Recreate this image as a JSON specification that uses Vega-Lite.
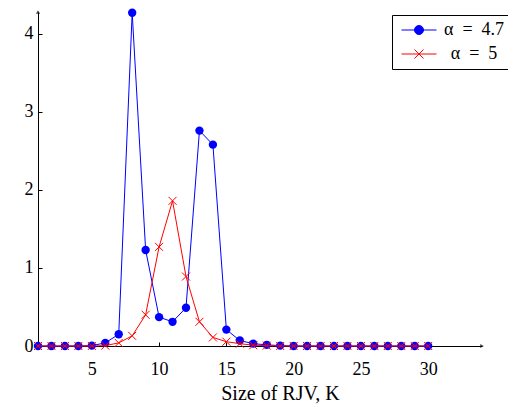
{
  "$schema": "https://vega.github.io/schema/vega-lite/v6.json",
  "width": 444,
  "height": 334,
  "autosize": {"type": "none"},
  "padding": {"left": 38, "top": 12, "right": 26, "bottom": 59},
  "config": {
    "view": {"stroke": null},
    "font": "Liberation Serif",
    "axis": {
      "domainColor": "black",
      "domainWidth": 1,
      "tickColor": "black",
      "tickWidth": 1,
      "tickSize": -4,
      "grid": false,
      "labelColor": "black",
      "labelFontSize": 18,
      "labelFont": "Liberation Serif",
      "titleColor": "black",
      "titleFont": "Liberation Serif",
      "titleFontSize": 20,
      "titleFontWeight": "normal"
    }
  },
  "data": {
    "values": [
      {"K": 1, "v": 0, "s": "α = 4.7"}, {"K": 2, "v": 0, "s": "α = 4.7"}, {"K": 3, "v": 0, "s": "α = 4.7"},
      {"K": 4, "v": 0, "s": "α = 4.7"}, {"K": 5, "v": 0.005, "s": "α = 4.7"}, {"K": 6, "v": 0.04, "s": "α = 4.7"},
      {"K": 7, "v": 0.15, "s": "α = 4.7"}, {"K": 8, "v": 4.27, "s": "α = 4.7"}, {"K": 9, "v": 1.23, "s": "α = 4.7"},
      {"K": 10, "v": 0.37, "s": "α = 4.7"}, {"K": 11, "v": 0.31, "s": "α = 4.7"}, {"K": 12, "v": 0.49, "s": "α = 4.7"},
      {"K": 13, "v": 2.76, "s": "α = 4.7"}, {"K": 14, "v": 2.58, "s": "α = 4.7"}, {"K": 15, "v": 0.21, "s": "α = 4.7"},
      {"K": 16, "v": 0.07, "s": "α = 4.7"}, {"K": 17, "v": 0.03, "s": "α = 4.7"}, {"K": 18, "v": 0.015, "s": "α = 4.7"},
      {"K": 19, "v": 0.005, "s": "α = 4.7"}, {"K": 20, "v": 0, "s": "α = 4.7"}, {"K": 21, "v": 0, "s": "α = 4.7"},
      {"K": 22, "v": 0, "s": "α = 4.7"}, {"K": 23, "v": 0, "s": "α = 4.7"}, {"K": 24, "v": 0, "s": "α = 4.7"},
      {"K": 25, "v": 0, "s": "α = 4.7"}, {"K": 26, "v": 0, "s": "α = 4.7"}, {"K": 27, "v": 0, "s": "α = 4.7"},
      {"K": 28, "v": 0, "s": "α = 4.7"}, {"K": 29, "v": 0, "s": "α = 4.7"}, {"K": 30, "v": 0, "s": "α = 4.7"},
      {"K": 1, "v": 0, "s": "α = 5"}, {"K": 2, "v": 0, "s": "α = 5"}, {"K": 3, "v": 0, "s": "α = 5"},
      {"K": 4, "v": 0, "s": "α = 5"}, {"K": 5, "v": 0, "s": "α = 5"}, {"K": 6, "v": 0.005, "s": "α = 5"},
      {"K": 7, "v": 0.04, "s": "α = 5"}, {"K": 8, "v": 0.13, "s": "α = 5"}, {"K": 9, "v": 0.4, "s": "α = 5"},
      {"K": 10, "v": 1.27, "s": "α = 5"}, {"K": 11, "v": 1.86, "s": "α = 5"}, {"K": 12, "v": 0.89, "s": "α = 5"},
      {"K": 13, "v": 0.31, "s": "α = 5"}, {"K": 14, "v": 0.11, "s": "α = 5"}, {"K": 15, "v": 0.055, "s": "α = 5"},
      {"K": 16, "v": 0.03, "s": "α = 5"}, {"K": 17, "v": 0.01, "s": "α = 5"}, {"K": 18, "v": 0.005, "s": "α = 5"},
      {"K": 19, "v": 0, "s": "α = 5"}, {"K": 20, "v": 0, "s": "α = 5"}, {"K": 21, "v": 0, "s": "α = 5"},
      {"K": 22, "v": 0, "s": "α = 5"}, {"K": 23, "v": 0, "s": "α = 5"}, {"K": 24, "v": 0, "s": "α = 5"},
      {"K": 25, "v": 0, "s": "α = 5"}, {"K": 26, "v": 0, "s": "α = 5"}, {"K": 27, "v": 0, "s": "α = 5"},
      {"K": 28, "v": 0, "s": "α = 5"}, {"K": 29, "v": 0, "s": "α = 5"}, {"K": 30, "v": 0, "s": "α = 5"}
    ]
  },
  "encoding": {
    "x": {
      "field": "K", "type": "quantitative",
      "scale": {"domain": [1, 34], "nice": false, "zero": false},
      "axis": {"values": [5, 10, 15, 20, 25, 30], "title": "Size of RJV, K", "labelPadding": 18, "titlePadding": 5, "titleX": 242}
    },
    "y": {
      "field": "v", "type": "quantitative",
      "scale": {"domain": [0, 4.28], "nice": false},
      "axis": {"values": [0, 1, 2, 3, 4], "title": null, "labelPadding": 9}
    },
    "color": {
      "field": "s", "type": "nominal",
      "scale": {"domain": ["α = 4.7", "α = 5"], "range": ["#0000ff", "#ff0000"]},
      "legend": {
        "title": null,
        "orient": "none",
        "legendX": 354,
        "legendY": 3,
        "strokeColor": "black",
        "fillColor": "white",
        "cornerRadius": 0,
        "padding": 6,
        "symbolSize": 100,
        "symbolOffset": 12,
        "labelOffset": 46,
        "labelAlign": "center",
        "labelFontSize": 18,
        "labelFont": "Liberation Serif",
        "labelColor": "black",
        "labelExpr": "datum.label === 'α = 4.7' ? 'α\u2002=\u20024.7' : 'α\u2002=\u20025'",
        "rowPadding": 6,
        "encode": {
          "symbols": {
            "update": {
              "shape": {"signal": "datum.value === 'α = 4.7' ? 'M-3.5,0H3.5M-0.9,0A0.9,0.9 0 1,1 0.9,0A0.9,0.9 0 1,1 -0.9,0' : 'M-3.5,0H3.5M-0.9,-0.9L0.9,0.9M-0.9,0.9L0.9,-0.9'"},
              "fill": {"signal": "datum.value === 'α = 4.7' ? '#0000ff' : 'transparent'"},
              "stroke": {"signal": "datum.value === 'α = 4.7' ? '#0000ff' : '#ff0000'"},
              "strokeWidth": {"value": 1},
              "opacity": {"value": 1}
            }
          }
        }
      }
    }
  },
  "layer": [
    {
      "transform": [{"filter": "datum.s === 'α = 4.7'"}],
      "mark": {"type": "line", "strokeWidth": 1, "clip": false}
    },
    {
      "transform": [{"filter": "datum.s === 'α = 4.7'"}],
      "mark": {"type": "point", "shape": "circle", "filled": true, "size": 70, "opacity": 1, "clip": false}
    },
    {
      "transform": [{"filter": "datum.s === 'α = 5'"}],
      "mark": {"type": "line", "strokeWidth": 1, "clip": false}
    },
    {
      "transform": [{"filter": "datum.s === 'α = 5'"}],
      "mark": {"type": "point", "shape": "M-1,-1L1,1M-1,1L1,-1", "filled": false, "size": 64, "strokeWidth": 1, "opacity": 1, "clip": false}
    },
    {
      "data": {"values": [{"K": 34, "v": 0}]},
      "mark": {"type": "point", "shape": "triangle-right", "filled": true, "size": 18, "color": "black", "clip": false},
      "encoding": {"color": {"value": "black"}}
    },
    {
      "data": {"values": [{"K": 1, "v": 4.28}]},
      "mark": {"type": "point", "shape": "triangle-up", "filled": true, "size": 18, "color": "black", "clip": false},
      "encoding": {"color": {"value": "black"}}
    }
  ]
}
